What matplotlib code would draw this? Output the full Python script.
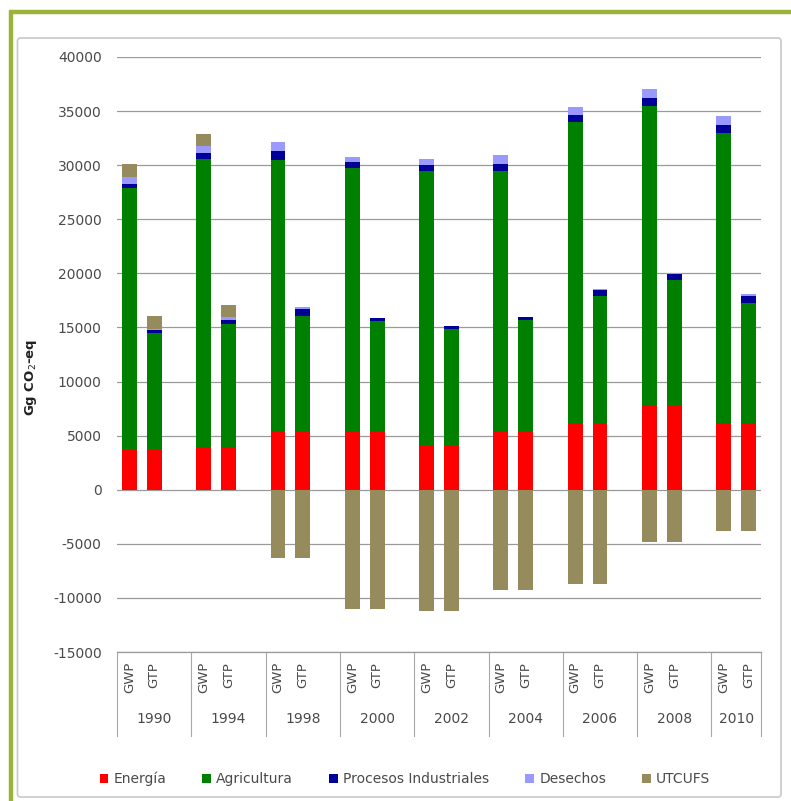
import matplotlib
matplotlib.use("Agg")
import matplotlib.pyplot as plt
from matplotlib.patches import FancyBboxPatch
from matplotlib.lines import Line2D
import numpy as np

plt.rcParams['font.family'] = ['DejaVu Sans']

years = ["1990", "1994", "1998", "2000", "2002", "2004", "2006", "2008", "2010"]
metrics = ["GWP", "GTP"]
series_names = ["Energía", "Agricultura", "Procesos Industriales", "Desechos", "UTCUFS"]
colors = ["#FF0000", "#008000", "#000099", "#9999FF", "#968B5C"]

energia_gwp = [3800, 3900, 5400, 5350, 4100, 5350, 6200, 7700, 6100]
energia_gtp = [3800, 3900, 5400, 5350, 4100, 5350, 6200, 7700, 6100]
agricultura_gwp = [24050, 26700, 25100, 24350, 25400, 24150, 27800, 27800, 26900]
agricultura_gtp = [10700, 11400, 10650, 10250, 10750, 10300, 11700, 11700, 11150]
procesos_gwp = [400, 500, 850, 600, 550, 650, 650, 700, 750]
procesos_gtp = [300, 400, 650, 250, 250, 300, 600, 500, 700]
desechos_gwp = [700, 700, 750, 500, 500, 750, 700, 800, 800]
desechos_gtp = [100, 250, 150, 50, 50, 50, 100, 100, 100]
utcufs_gwp = [1150, 1100, -6300, -11000, -11200, -9300, -8700, -4800, -3800]
utcufs_gtp = [1150, 1100, -6300, -11000, -11200, -9300, -8700, -4800, -3800]

W, H = 791, 801
fig = plt.figure(figsize=(W / 100, H / 100), dpi=100)

# frames
fig.add_artist(FancyBboxPatch((17.5 / W, 1 - 797 / H), (781 - 17.5) / W, (797 - 38) / H,
                              boxstyle="round,pad=0,rounding_size=0.004", transform=fig.transFigure,
                              fill=False, edgecolor="#C8C8C8", linewidth=1.2))
fig.add_artist(Line2D([10.5 / W, 10.5 / W], [0, 1 - 10.5 / H], transform=fig.transFigure,
                      color="#9BB33B", linewidth=3.2, solid_capstyle="butt"))
fig.add_artist(Line2D([9 / W, 1], [1 - 12 / H, 1 - 12 / H], transform=fig.transFigure,
                      color="#9BB33B", linewidth=3.2, solid_capstyle="butt"))

ax_left, ax_right, ax_top, ax_bot = 117, 761, 57, 652
ax = fig.add_axes([ax_left / W, 1 - ax_bot / H, (ax_right - ax_left) / W, (ax_bot - ax_top) / H])

data = {
    "GWP": [energia_gwp, agricultura_gwp, procesos_gwp, desechos_gwp, utcufs_gwp],
    "GTP": [energia_gtp, agricultura_gtp, procesos_gtp, desechos_gtp, utcufs_gtp],
}
width = 0.6
for mi, m in enumerate(metrics):
    xs = np.arange(len(years)) * 3 + mi
    pos_bottom = np.zeros(len(years))
    neg_bottom = np.zeros(len(years))
    for si, vals in enumerate(data[m]):
        vals = np.array(vals, dtype=float)
        pos = np.where(vals > 0, vals, 0)
        neg = np.where(vals < 0, vals, 0)
        ax.bar(xs, pos, width, bottom=pos_bottom, color=colors[si], linewidth=0, zorder=3,
               label=series_names[si] if mi == 0 else None)
        if np.any(neg < 0):
            ax.bar(xs, neg, width, bottom=neg_bottom, color=colors[si], linewidth=0, zorder=3)
        pos_bottom += pos
        neg_bottom += neg

ax.set_xlim(-0.5, 25.5)
ax.set_ylim(-15000, 40000)
ax.set_yticks(np.arange(-15000, 40001, 5000))
ax.set_yticklabels([str(v) for v in range(-15000, 40001, 5000)])
ax.tick_params(axis="y", length=0, pad=11, labelsize=10, labelcolor="#4a4a4a")
ax.set_xticks([])
ax.yaxis.grid(True, color="#9A9A9A", linewidth=0.9, zorder=0)
for s in ["left", "right", "top"]:
    ax.spines[s].set_visible(False)
ax.spines["bottom"].set_color("#9A9A9A")
ax.spines["bottom"].set_linewidth(0.9)

# category axis labels
tr = ax.get_xaxis_transform()
px = 1.0 / (ax_bot - ax_top)
n = len(years)
for k, yr in enumerate(years):
    for mi, m in enumerate(metrics):
        ax.text(3 * k + mi, -10 * px, m, rotation=90, ha="center", va="top",
                fontsize=9.5, color="#4a4a4a", transform=tr)
    xc = 3 * k + 1 if k < n - 1 else 3 * k + 0.5
    ax.text(xc, -67 * px, yr, ha="center", va="center", fontsize=10, color="#4a4a4a", transform=tr)
    ax.plot([3 * k - 0.5, 3 * k - 0.5], [0, -84 * px], color="#A8A8A8", linewidth=0.8,
            transform=tr, clip_on=False)
ax.plot([25.5, 25.5], [0, -84 * px], color="#A8A8A8", linewidth=0.8, transform=tr, clip_on=False)

fig.text(31 / W, 1 - 377 / H, "Gg CO$_2$-eq", rotation=90, ha="center", va="center",
         fontsize=9.5, fontweight="bold", color="#222222")

leg = fig.legend(loc="center", bbox_to_anchor=(405 / W, 1 - 779 / H), ncol=5, frameon=False,
                 fontsize=10, handlelength=0.6, handleheight=0.6, handletextpad=0.4,
                 columnspacing=2.6, labelcolor="#4a4a4a")

fig.savefig("out.png", dpi=100)
